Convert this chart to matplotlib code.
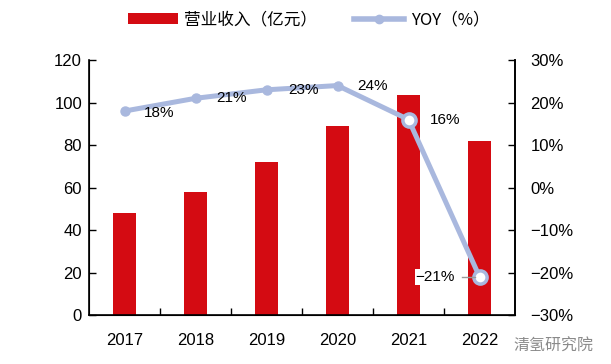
import matplotlib
matplotlib.use("Agg")
import matplotlib.pyplot as plt
from matplotlib.lines import Line2D
from matplotlib.patches import Patch

plt.rcParams['font.family'] = ['Liberation Sans', 'Noto Sans CJK SC', 'DejaVu Sans']

years = ["2017", "2018", "2019", "2020", "2021", "2022"]
revenue = [48, 58, 72, 89, 103.5, 82]
yoy = [18, 21, 23, 24, 16, -21]
yoy_labels = ["18%", "21%", "23%", "24%", "16%", "-21%"]
left_ticks = [0, 20, 40, 60, 80, 100, 120]
right_ticks = [-30, -20, -10, 0, 10, 20, 30]

red = "#d40b12"
blue = "#a9b8de"
fs = 12

fig = plt.figure(figsize=(6.11, 3.64), dpi=100)
ax = fig.add_axes([0.1457, 0.1346, 0.6972, 0.7004])
x = list(range(len(years)))
ax.bar(x, revenue, width=0.32, color=red, zorder=2)
ax.set_xlim(-0.5, len(years) - 0.5)
ax.set_ylim(0, 120)
ax.set_yticks(left_ticks)
ax.set_yticklabels([str(t) for t in left_ticks], fontsize=fs)
ax.set_xticks(x)
ax.set_xticklabels(years, fontsize=fs)
ax.tick_params(axis='x', length=0, pad=13)
ax.set_xticks([i + 0.5 for i in x[:-1]], minor=True)
ax.tick_params(axis='x', which='minor', direction='in', length=5, width=1)
ax.tick_params(axis='y', direction='in', length=5, width=1, pad=5)
ax.spines['top'].set_visible(False)
for s in ['left', 'bottom', 'right']:
    ax.spines[s].set_linewidth(1.2)

ax2 = ax.twinx()
ax2.set_ylim(-30, 30)
ax2.set_yticks(right_ticks)
ax2.set_yticklabels([("\u2212" if t < 0 else "") + f"{abs(t)}%" for t in right_ticks], fontsize=fs)
ax2.tick_params(axis='y', direction='in', length=5, width=1, pad=11)
ax2.spines['top'].set_visible(False)
ax2.spines['right'].set_linewidth(1.2)

ax2.plot(x, yoy, color=blue, lw=3.6, zorder=3)
ax2.plot(x[:4], yoy[:4], 'o', color=blue, ms=6.5, zorder=4)
ax2.plot(x[4:], yoy[4:], 'o', color=blue, mfc='white', mec=blue, mew=2.5, ms=9.5, zorder=4)

offsets = [(0.27, -0.4, 'left'), (0.29, 0.0, 'left'), (0.3, 0.0, 'left'),
           (0.28, 0.0, 'left'), (0.3, 0.0, 'left'), (-0.35, 0.0, 'right')]
for i, (dx, dy, ha) in enumerate(offsets):
    lab = yoy_labels[i].replace("-", "\u2212")
    bbox = dict(facecolor='white', edgecolor='none', pad=0.5) if yoy[i] < 0 else None
    ax2.text(x[i] + dx, yoy[i] + dy, lab, ha=ha, va='center', fontsize=11,
             zorder=5, bbox=bbox)
ax2.plot([x[5] - 0.24, x[5] - 0.07], [-21, -21], color='#999999', lw=1, zorder=4)

handles = [Patch(facecolor=red, edgecolor='none'),
           Line2D([0], [0], color=blue, lw=4, marker='o', ms=6)]
fig.legend(handles, ["营业收入（亿元）", "YOY（%）"], loc='upper center',
           bbox_to_anchor=(0.505, 1.01), ncol=2, frameon=False,
           handlelength=3.0, columnspacing=2.2, handletextpad=0.4,
           prop={'family': ['Noto Sans CJK SC', 'DejaVu Sans'], 'size': 12})

fig.text(0.972, 0.048, "清氢研究院", ha='right', va='center', fontsize=11.5,
         color='#8a8a8a', family=['Noto Sans CJK SC'])

fig.savefig("out.png", dpi=100)
